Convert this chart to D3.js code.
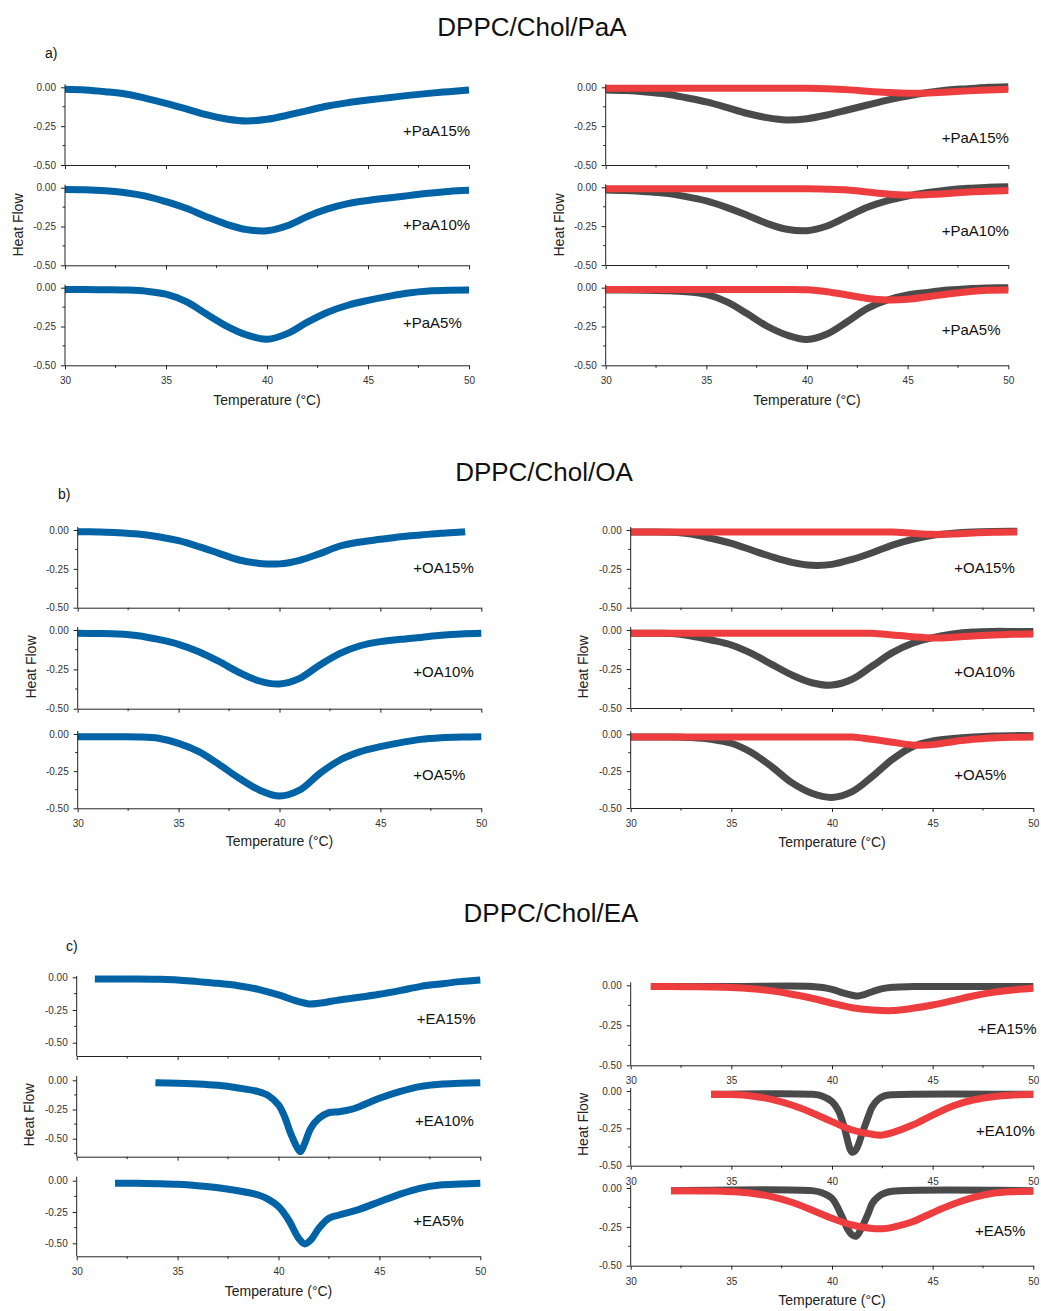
<!DOCTYPE html>
<html><head><meta charset="utf-8">
<script src="https://cdn.jsdelivr.net/npm/d3@7"></script>
<style>
body{margin:0;background:#fff}
text{font-family:"Liberation Sans",Arial,sans-serif}
</style>
</head><body>
<svg id="chart" width="1041" height="1311"></svg>
<script>
// ---------- DATA ----------
const tempGrid = [30,31,32,33,34,35,36,37,38,39,40,41,42,43,44,45,46,47,48,49,50];
const tempOA15 = [30,31,32,33,34,35,36,37,38,39,40,41,42,43,44,45,46,47,48,49,49.2];
const xMajorTicks = [30,35,40,45,50];
const xMinorTicks = [32.5,37.5,42.5,47.5];
const yMajorTicks = [0,-0.25,-0.5];
const yMinorTicks = [-0.125,-0.375,-0.625];

// a) DPPC/Chol/PaA
const paa15Blue = [-0.013,-0.017,-0.028,-0.043,-0.071,-0.103,-0.139,-0.176,-0.204,-0.217,-0.206,-0.180,-0.150,-0.120,-0.099,-0.082,-0.067,-0.052,-0.039,-0.028,-0.017];
const paa10Blue = [-0.011,-0.013,-0.020,-0.032,-0.054,-0.090,-0.133,-0.187,-0.236,-0.270,-0.277,-0.245,-0.185,-0.137,-0.103,-0.082,-0.066,-0.051,-0.036,-0.024,-0.017];
const paa5Blue  = [-0.011,-0.012,-0.013,-0.015,-0.022,-0.042,-0.090,-0.170,-0.247,-0.305,-0.332,-0.296,-0.222,-0.158,-0.113,-0.082,-0.056,-0.034,-0.021,-0.016,-0.015];
const paa15Gray = [-0.017,-0.021,-0.030,-0.043,-0.067,-0.094,-0.129,-0.167,-0.195,-0.210,-0.202,-0.178,-0.146,-0.114,-0.082,-0.056,-0.034,-0.017,-0.009,0.000,0.004];
const paa10Gray = [-0.017,-0.021,-0.028,-0.039,-0.060,-0.088,-0.129,-0.178,-0.232,-0.270,-0.279,-0.249,-0.189,-0.129,-0.086,-0.056,-0.034,-0.017,-0.006,0.000,0.004];
const paa5Gray  = [-0.015,-0.015,-0.016,-0.019,-0.026,-0.043,-0.090,-0.165,-0.247,-0.305,-0.333,-0.298,-0.219,-0.133,-0.079,-0.047,-0.030,-0.015,-0.006,-0.002,0.000];
const paa15Red  = [-0.006,-0.006,-0.006,-0.006,-0.006,-0.006,-0.006,-0.006,-0.006,-0.006,-0.006,-0.009,-0.015,-0.025,-0.033,-0.038,-0.036,-0.030,-0.023,-0.018,-0.013];
const paa10Red  = [-0.010,-0.010,-0.010,-0.010,-0.010,-0.010,-0.010,-0.010,-0.010,-0.010,-0.010,-0.012,-0.017,-0.030,-0.043,-0.050,-0.047,-0.040,-0.030,-0.026,-0.021];
const paa5Red   = [-0.011,-0.011,-0.011,-0.011,-0.011,-0.011,-0.011,-0.011,-0.011,-0.011,-0.013,-0.026,-0.047,-0.069,-0.079,-0.075,-0.058,-0.040,-0.026,-0.017,-0.015];

// b) DPPC/Chol/OA
const oa15Blue = [-0.011,-0.013,-0.017,-0.026,-0.043,-0.069,-0.107,-0.150,-0.193,-0.215,-0.218,-0.195,-0.152,-0.103,-0.077,-0.060,-0.043,-0.032,-0.021,-0.013,-0.011];
const oa10Blue = [-0.021,-0.022,-0.025,-0.036,-0.060,-0.091,-0.138,-0.200,-0.270,-0.324,-0.343,-0.307,-0.222,-0.148,-0.100,-0.074,-0.059,-0.047,-0.034,-0.025,-0.021];
const oa5Blue  = [-0.018,-0.018,-0.019,-0.020,-0.029,-0.063,-0.119,-0.204,-0.298,-0.377,-0.417,-0.377,-0.265,-0.175,-0.119,-0.085,-0.058,-0.036,-0.025,-0.020,-0.018];
const oa15Gray = [-0.013,-0.013,-0.015,-0.026,-0.054,-0.086,-0.129,-0.172,-0.208,-0.227,-0.221,-0.189,-0.146,-0.097,-0.060,-0.034,-0.021,-0.013,-0.009,-0.008,-0.008];
const oa10Gray = [-0.021,-0.021,-0.022,-0.038,-0.064,-0.096,-0.150,-0.220,-0.288,-0.338,-0.353,-0.316,-0.231,-0.145,-0.085,-0.049,-0.026,-0.013,-0.009,-0.009,-0.009];
const oa5Gray  = [-0.018,-0.018,-0.018,-0.022,-0.034,-0.061,-0.124,-0.219,-0.328,-0.400,-0.428,-0.389,-0.287,-0.170,-0.084,-0.045,-0.029,-0.018,-0.011,-0.009,-0.009];
const oa15Red  = [-0.013,-0.013,-0.013,-0.013,-0.013,-0.013,-0.013,-0.013,-0.013,-0.013,-0.013,-0.013,-0.013,-0.013,-0.021,-0.028,-0.026,-0.019,-0.015,-0.013,-0.013];
const oa10Red  = [-0.021,-0.021,-0.021,-0.021,-0.021,-0.021,-0.021,-0.021,-0.021,-0.021,-0.021,-0.021,-0.021,-0.032,-0.043,-0.051,-0.047,-0.038,-0.032,-0.028,-0.026];
const oa5Red   = [-0.018,-0.018,-0.018,-0.018,-0.018,-0.018,-0.018,-0.018,-0.018,-0.018,-0.018,-0.019,-0.034,-0.054,-0.072,-0.070,-0.050,-0.034,-0.025,-0.020,-0.018];

// c) DPPC/Chol/EA
const ea15BlueT = [30.9,32,33,34,35,36,37,38,39,40,41,41.5,42,43,44,45,46,47,48,49,50];
const ea15Blue  = [-0.013,-0.013,-0.013,-0.015,-0.020,-0.033,-0.046,-0.064,-0.092,-0.135,-0.186,-0.204,-0.199,-0.173,-0.153,-0.130,-0.102,-0.071,-0.051,-0.033,-0.020];
const ea10BlueT = [33.9,35,36,37,38,39,39.5,40,40.3,40.6,41,41.1,41.3,41.6,42,42.5,43,43.5,44,45,46,47,48,49,50];
const ea10Blue  = [-0.020,-0.026,-0.031,-0.043,-0.066,-0.097,-0.131,-0.211,-0.310,-0.454,-0.597,-0.610,-0.540,-0.410,-0.326,-0.277,-0.269,-0.254,-0.226,-0.154,-0.097,-0.054,-0.034,-0.026,-0.020];
const ea5BlueT  = [31.9,33,34,35,36,37,38,39,39.5,40,40.5,41,41.3,41.6,42,42.5,43,44,45,46,47,48,49,50];
const ea5Blue   = [-0.021,-0.021,-0.024,-0.029,-0.040,-0.056,-0.080,-0.114,-0.149,-0.207,-0.314,-0.460,-0.505,-0.473,-0.380,-0.300,-0.274,-0.229,-0.168,-0.109,-0.061,-0.035,-0.027,-0.021];
const ea15GrayT = [31,35,39,40,40.5,41,41.3,41.6,42,42.5,43,44,50];
const ea15Gray  = [-0.008,-0.008,-0.008,-0.025,-0.046,-0.062,-0.067,-0.058,-0.040,-0.021,-0.012,-0.008,-0.008];
const ea15RedT  = [31,32,33,34,35,36,37,38,39,40,41,42,43,44,45,46,47,48,49,50];
const ea15Red   = [-0.008,-0.008,-0.009,-0.010,-0.013,-0.021,-0.035,-0.056,-0.081,-0.112,-0.140,-0.154,-0.158,-0.144,-0.123,-0.096,-0.067,-0.044,-0.029,-0.019];
const ea10GrayT = [34,39,39.5,40,40.3,40.6,40.9,41,41.2,41.5,41.8,42,42.3,42.6,43,50];
const ea10Gray  = [-0.022,-0.022,-0.033,-0.071,-0.127,-0.239,-0.390,-0.410,-0.390,-0.283,-0.172,-0.105,-0.056,-0.033,-0.025,-0.022];
const ea10RedT  = [34,35,36,37,38,39,40,41,42,42.5,43,44,45,46,47,48,49,50];
const ea10Red   = [-0.022,-0.024,-0.033,-0.056,-0.094,-0.145,-0.205,-0.261,-0.290,-0.295,-0.279,-0.228,-0.161,-0.100,-0.060,-0.038,-0.027,-0.022];
const ea5GrayT  = [32,39,39.5,40,40.5,40.8,41,41.2,41.5,41.8,42,42.3,42.6,43,50];
const ea5Gray   = [-0.017,-0.017,-0.030,-0.067,-0.185,-0.270,-0.302,-0.310,-0.249,-0.163,-0.099,-0.056,-0.034,-0.021,-0.017];
const ea5RedT   = [32,34,35,36,37,38,39,40,41,42,42.5,43,44,45,46,47,48,49,50];
const ea5Red    = [-0.017,-0.019,-0.024,-0.034,-0.056,-0.092,-0.142,-0.195,-0.238,-0.260,-0.262,-0.253,-0.217,-0.159,-0.105,-0.062,-0.034,-0.024,-0.021];

const titles = ["DPPC/Chol/PaA","DPPC/Chol/OA","DPPC/Chol/EA"];
const letters = ["a)","b)","c)"];
const labelsA = ["+PaA15%","+PaA10%","+PaA5%"];
const labelsB = ["+OA15%","+OA10%","+OA5%"];
const labelsC = ["+EA15%","+EA10%","+EA5%"];

// ---------- STYLE / LAYOUT ----------
const BLUE = "#0063a6", GRAY = "#4a4a4a", RED = "#ee3d3f";
const zip = (t, v) => t.map((d, i) => [d, v[i]]);

const titleLayout = [
  {x: 532, y: 35.5}, {x: 544, y: 481}, {x: 551, y: 922}
];
const letterLayout = [
  {x: 45, y: 58}, {x: 58, y: 499}, {x: 66, y: 951}
];

const columns = [
  // a) left
  {x0: 65, x1: 469, xt: 405, hf: [23, 225], subs: [
    {py0: 87.3, py50: 165, xl: false, lab: labelsA[0], lx: 403, ly: 135.7, s: [[tempGrid, paa15Blue, BLUE]]},
    {py0: 187.7, py50: 265.3, xl: false, lab: labelsA[1], lx: 403, ly: 230, s: [[tempGrid, paa10Blue, BLUE]]},
    {py0: 287.7, py50: 365.3, xl: true, lab: labelsA[2], lx: 403, ly: 328, s: [[tempGrid, paa5Blue, BLUE]]}
  ]},
  // a) right
  {x0: 605.7, x1: 1008.3, xt: 405, hf: [564, 225], subs: [
    {py0: 87.3, py50: 165, xl: false, lab: labelsA[0], lx: 941.7, ly: 142.7, s: [[tempGrid, paa15Gray, GRAY], [tempGrid, paa15Red, RED]]},
    {py0: 187.3, py50: 265, xl: false, lab: labelsA[1], lx: 941.7, ly: 236, s: [[tempGrid, paa10Gray, GRAY], [tempGrid, paa10Red, RED]]},
    {py0: 287.7, py50: 365.3, xl: true, lab: labelsA[2], lx: 941.7, ly: 335, s: [[tempGrid, paa5Gray, GRAY], [tempGrid, paa5Red, RED]]}
  ]},
  // b) left
  {x0: 77.7, x1: 481.3, xt: 846, hf: [36, 667], subs: [
    {py0: 530, py50: 607.7, xl: false, lab: labelsB[0], lx: 413.3, ly: 572.7, s: [[tempOA15, oa15Blue, BLUE]]},
    {py0: 630, py50: 708.7, xl: false, lab: labelsB[1], lx: 413.3, ly: 676.7, s: [[tempGrid, oa10Blue, BLUE]]},
    {py0: 734, py50: 808.3, xl: true, lab: labelsB[2], lx: 413.3, ly: 780, s: [[tempGrid, oa5Blue, BLUE]]}
  ]},
  // b) right
  {x0: 630.7, x1: 1033.3, xt: 847, hf: [588, 667], subs: [
    {py0: 530, py50: 607.7, xl: false, lab: labelsB[0], lx: 954.3, ly: 572.7, s: [[tempOA15, oa15Gray, GRAY], [tempOA15, oa15Red, RED]]},
    {py0: 630, py50: 708, xl: false, lab: labelsB[1], lx: 954.3, ly: 676.7, s: [[tempGrid, oa10Gray, GRAY], [tempGrid, oa10Red, RED]]},
    {py0: 734.3, py50: 808, xl: true, lab: labelsB[2], lx: 954.3, ly: 780, s: [[tempGrid, oa5Gray, GRAY], [tempGrid, oa5Red, RED]]}
  ]},
  // c) left
  {x0: 76.7, x1: 480.3, xt: 1296, hf: [34, 1115], subs: [
    {py0: 977.3, py50: 1042.7, top: 976, bot: 1056, xl: false, lab: labelsC[0], lx: 416.7, ly: 1024.3, s: [[ea15BlueT, ea15Blue, BLUE]]},
    {py0: 1080.3, py50: 1138.7, top: 1076, bot: 1156.7, xl: false, lab: labelsC[1], lx: 415, ly: 1126, s: [[ea10BlueT, ea10Blue, BLUE]]},
    {py0: 1180.7, py50: 1243.3, top: 1176.7, bot: 1256.3, xl: true, lab: labelsC[2], lx: 413.3, ly: 1225.7, s: [[ea5BlueT, ea5Blue, BLUE]]}
  ]},
  // c) right
  {x0: 630.7, x1: 1033.3, xt: 1305, hf: [588, 1124.5], subs: [
    {py0: 985.3, py50: 1065.3, xl: true, lab: labelsC[0], lx: 977.7, ly: 1034, s: [[ea15GrayT, ea15Gray, GRAY], [ea15RedT, ea15Red, RED]]},
    {py0: 1091, py50: 1165.7, xl: true, lab: labelsC[1], lx: 976, ly: 1135.7, s: [[ea10GrayT, ea10Gray, GRAY], [ea10RedT, ea10Red, RED]]},
    {py0: 1188, py50: 1265.7, xl: true, lab: labelsC[2], lx: 975, ly: 1235.7, s: [[ea5GrayT, ea5Gray, GRAY], [ea5RedT, ea5Red, RED]]}
  ]}
];

// ---------- DRAW ----------
const svg = d3.select("#chart");
const AX = "#222", TXT = "#333";

titles.forEach((t, i) => {
  svg.append("text").attr("x", titleLayout[i].x).attr("y", titleLayout[i].y)
    .attr("text-anchor", "middle").attr("font-size", 26).attr("fill", "#111").text(t);
  svg.append("text").attr("x", letterLayout[i].x).attr("y", letterLayout[i].y)
    .attr("font-size", 14).attr("fill", "#111").text(letters[i]);
});

columns.forEach(col => {
  const x = d3.scaleLinear().domain([30, 50]).range([col.x0, col.x1]);
  const g = svg.append("g");

  col.subs.forEach(sub => {
    const y = d3.scaleLinear().domain([0, -0.5]).range([sub.py0, sub.py50]);
    const top = sub.top !== undefined ? sub.top : sub.py0 - 3;
    const bot = sub.bot !== undefined ? sub.bot : sub.py50;

    // curves
    const line = d3.line().x(d => x(d[0])).y(d => y(d[1])).curve(d3.curveCatmullRom.alpha(0.5));
    sub.s.forEach(([t, v, c]) => {
      g.append("path").datum(zip(t, v)).attr("d", line)
        .attr("fill", "none").attr("stroke", c).attr("stroke-width", 7)
        .attr("stroke-linejoin", "round");
    });

    // y axis
    const yAxis = d3.axisLeft(y).tickValues(yMajorTicks.filter(v => y(v) <= bot + 0.5))
      .tickSize(4).tickPadding(5).tickFormat(d => d.toFixed(2));
    const gy = g.append("g").attr("transform", `translate(${col.x0},0)`).call(yAxis);
    gy.select(".domain").remove();
    gy.selectAll("line").attr("stroke", AX);
    gy.selectAll("text").attr("font-size", 10).attr("fill", TXT)
      .style("font-family", '"Liberation Sans",Arial,sans-serif');
    g.append("line").attr("x1", col.x0).attr("x2", col.x0).attr("y1", top).attr("y2", bot)
      .attr("stroke", AX).attr("stroke-width", 1);
    yMinorTicks.filter(v => y(v) <= bot).forEach(v => {
      g.append("line").attr("x1", col.x0 - 2.5).attr("x2", col.x0).attr("y1", y(v)).attr("y2", y(v))
        .attr("stroke", AX);
    });

    // x axis
    const xAxis = d3.axisBottom(x).tickValues(xMajorTicks).tickSize(4).tickSizeOuter(0)
      .tickPadding(8).tickFormat(sub.xl ? d3.format("d") : () => "");
    const gx = g.append("g").attr("transform", `translate(0,${bot})`).call(xAxis);
    gx.select(".domain").attr("stroke", AX);
    gx.selectAll("line").attr("stroke", AX);
    gx.selectAll("text").attr("font-size", 10).attr("fill", TXT)
      .style("font-family", '"Liberation Sans",Arial,sans-serif');
    xMinorTicks.forEach(v => {
      g.append("line").attr("x1", x(v)).attr("x2", x(v)).attr("y1", bot).attr("y2", bot + 2.5)
        .attr("stroke", AX);
    });

    // label
    g.append("text").attr("x", sub.lx).attr("y", sub.ly).attr("font-size", 15)
      .attr("fill", "#111").text(sub.lab);
  });

  // axis titles
  g.append("text").attr("x", (col.x0 + col.x1) / 2).attr("y", col.xt)
    .attr("text-anchor", "middle").attr("font-size", 14).attr("fill", "#222")
    .text("Temperature (°C)");
  g.append("text").attr("transform", `translate(${col.hf[0]},${col.hf[1]}) rotate(-90)`)
    .attr("text-anchor", "middle").attr("font-size", 14).attr("fill", "#222")
    .text("Heat Flow");
});
</script>
</body></html>
